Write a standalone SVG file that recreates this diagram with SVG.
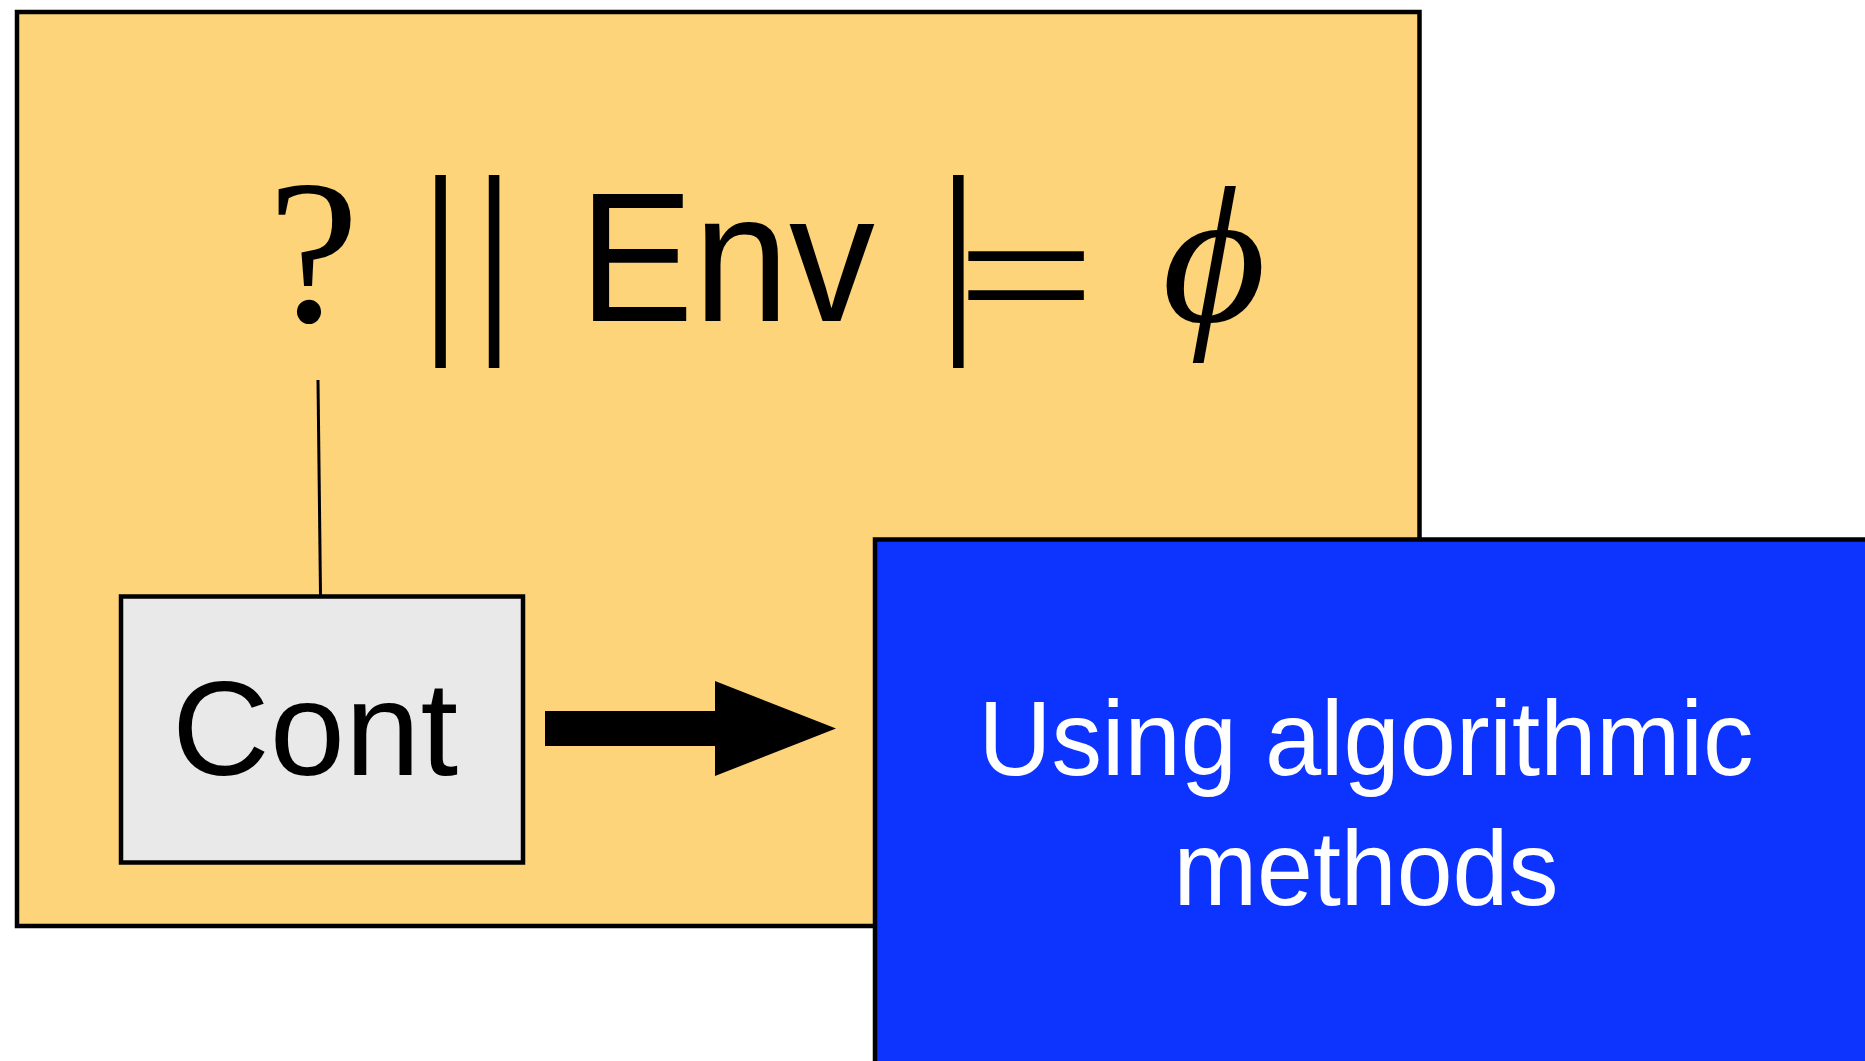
<svg xmlns="http://www.w3.org/2000/svg" width="1865" height="1061" viewBox="0 0 1865 1061">
<style>
.box{stroke:#000;stroke-width:4.5}
.math{font-family:"Liberation Serif","DejaVu Serif",serif;fill:#000}
.sans{font-family:"Liberation Sans","DejaVu Sans",sans-serif}
</style>
<rect x="0" y="0" width="1865" height="1061" fill="#fff"/>
<g id="frame">
<rect class="box" x="17" y="12" width="1402.5" height="914" fill="#FED47A"/>
<g id="formula">
<text class="math" x="268" y="321" font-size="205">?</text>
<text class="math" y="322" font-size="213" text-anchor="middle"><tspan x="440.6">|</tspan><tspan x="494">|</tspan></text>
<text class="sans" x="579" y="321" font-size="184" textLength="296" lengthAdjust="spacingAndGlyphs">Env</text>
<text class="math" y="322" font-size="213"><tspan x="937">|</tspan><tspan x="956" y="340" font-size="194" textLength="140" lengthAdjust="spacingAndGlyphs">=</tspan></text>
<text x="1162" y="321" font-size="195" font-family="Liberation Serif, DejaVu Serif, serif" font-style="italic" textLength="104" lengthAdjust="spacingAndGlyphs">ϕ</text>
</g>
</g>
<g id="connectors">
<line x1="318" y1="380" x2="320.5" y2="595" stroke="#000" stroke-width="3"/>
<polygon points="545,711 715,711 715,681 836,728.5 715,776 715,746 545,746" fill="#000"/>
</g>
<g id="cont">
<rect class="box" x="121" y="596.5" width="402" height="266" fill="#E9E9E9"/>
<text class="sans" x="172" y="775" font-size="133" textLength="286" lengthAdjust="spacingAndGlyphs" fill="#000">Cont</text>
</g>
<g id="algo">
<rect class="box" x="875" y="539.5" width="1000" height="540" fill="#0D33FF"/>
<text class="sans" x="1366" y="775" font-size="106" text-anchor="middle" textLength="775" lengthAdjust="spacingAndGlyphs" fill="#fff">Using algorithmic</text>
<text class="sans" x="1366" y="905" font-size="106" text-anchor="middle" textLength="385" lengthAdjust="spacingAndGlyphs" fill="#fff">methods</text>
</g>
</svg>
